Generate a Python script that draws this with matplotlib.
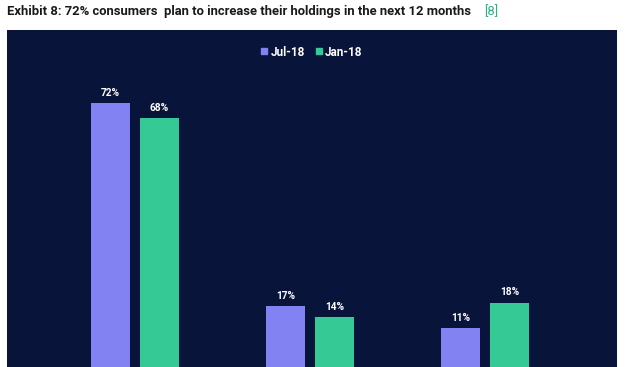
import matplotlib
matplotlib.use("Agg")
import matplotlib.pyplot as plt
from matplotlib.lines import Line2D
from matplotlib.patches import Rectangle
import numpy as np

categories = ["Increase", "Stay the same", "Decrease"]
series_names = ["Jul-18", "Jan-18"]
jul18 = [72, 17, 11]
jan18 = [68, 14, 18]

title = "Exhibit 8: 72% consumers  plan to increase their holdings in the next 12 months"
ref = "[8]"

W, H = 625, 367
fig = plt.figure(figsize=(W / 100, H / 100), dpi=100)
fig.patch.set_facecolor("white")

panel_color = "#08143a"
c_jul = "#8282f2"
c_jan = "#35c996"

# dark panel
fig.patches.append(Rectangle((7 / W, 0), 610 / W, (H - 30) / H, transform=fig.transFigure,
                             facecolor=panel_color, edgecolor="none", zorder=-5))

ax = fig.add_axes([7 / W, -2 / H, 610 / W, 339 / H])
ax.set_zorder(1)
ax.patch.set_alpha(0)
x = np.arange(len(categories))
bw = 0.223
off = 0.14
b1 = ax.bar(x - off, jul18, bw, color=c_jul, label=series_names[0])
b2 = ax.bar(x + off, jan18, bw, color=c_jan, label=series_names[1])
for bars, vals in ((b1, jul18), (b2, jan18)):
    for r, v in zip(bars, vals):
        ax.annotate(f"{v}%", (r.get_x() + r.get_width() / 2, v), xytext=(0, 4),
                    textcoords="offset points", ha="center", va="bottom",
                    color="white", fontsize=7.3, fontweight="bold", family="Roboto")
ax.set_xlim(-0.731, 2.754)
ax.set_ylim(0, 91.9)
ax.set_xticks(x)
ax.set_xticklabels(categories)
ax.tick_params(length=0, labelbottom=False)
ax.set_yticks([])
for s in ax.spines.values():
    s.set_visible(False)

handles = [Line2D([], [], marker="s", linestyle="none", markersize=4, color=c_jul),
           Line2D([], [], marker="s", linestyle="none", markersize=4, color=c_jan)]
leg = fig.legend(handles, series_names, loc="center", bbox_to_anchor=(312 / W, 1 - 52 / H),
                 ncol=2, frameon=False, handlelength=0.5, handletextpad=0.3,
                 columnspacing=0.9, prop={"family": "Roboto", "weight": "bold", "size": 8.5})
leg.set_zorder(2)
for t in leg.get_texts():
    t.set_color("white")

t = fig.text(7 / W, 1 - 12 / H, title, ha="left", va="center", fontsize=9.4,
             fontweight="bold", color="#1a1a1a", family="Roboto")
fig.canvas.draw()
bb = t.get_window_extent()
fig.text(bb.x1 / W + 13 / W, 1 - 12 / H, ref, ha="left", va="center", fontsize=9.4,
         color="#2fae8a", family="Roboto")

fig.savefig("out.png", dpi=100, facecolor=fig.get_facecolor())
